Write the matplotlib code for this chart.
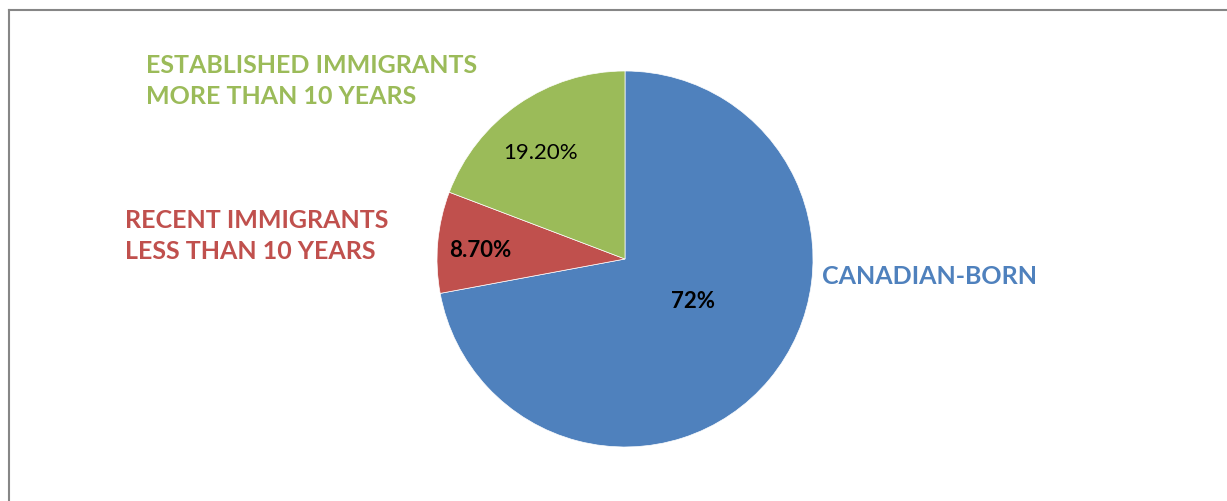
import matplotlib.pyplot as plt
from matplotlib.lines import Line2D

categories = ['CANADIAN-BORN', 'RECENT IMMIGRANTS\nLESS THAN 10 YEARS',
              'ESTABLISHED IMMIGRANTS\nMORE THAN 10 YEARS']
shares = [72.0, 8.7, 19.2]
pct_labels = ['72%', '8.70%', '19.20%']
colors = ['#4F81BD', '#C0504D', '#9BBB59']

plt.rcParams['font.family'] = ['Lato', 'DejaVu Sans']

W, H = 1227, 502
fig = plt.figure(figsize=(W / 100, H / 100), dpi=100)


def fx(px):
    return px / W


def fy(py):
    return 1 - py / H


# pie centred at (625, 260) px, radius 188 px
ax = fig.add_axes([fx(437), fy(448), 376 / W, 376 / H])
ax.pie(shares, colors=colors, startangle=90, counterclock=False,
       wedgeprops=dict(linewidth=0.5, edgecolor='white'))
ax.set_xlim(-1, 1)
ax.set_ylim(-1, 1)
ax.set_aspect('equal')
ax.axis('off')

# percent labels inside slices
ax.text(0.36, -0.22, pct_labels[0], ha='center', va='center',
        fontsize=16, fontweight='bold', color='black')
ax.text(-0.77, 0.05, pct_labels[1], ha='center', va='center',
        fontsize=16, fontweight='bold', color='black')
ax.text(-0.45, 0.57, pct_labels[2], ha='center', va='center',
        fontsize=16, color='black')

# category labels
fig.text(fx(822), fy(277), categories[0], ha='left', va='center',
         fontsize=18, fontweight='bold', color=colors[0])
fig.text(fx(125), fy(236), categories[1], ha='left', va='center',
         fontsize=18, fontweight='bold', color=colors[1], linespacing=1.45)
fig.text(fx(146), fy(81), categories[2], ha='left', va='center',
         fontsize=18, fontweight='bold', color=colors[2], linespacing=1.45)

# chart frame (only top and left visible in the crop)
fig.add_artist(Line2D([fx(8.5), 1], [fy(10.5), fy(10.5)], color='#868686', lw=1.5))
fig.add_artist(Line2D([fx(8.5), fx(8.5)], [fy(10.5), 0], color='#868686', lw=1.5))

plt.savefig('out.png', dpi=100)
